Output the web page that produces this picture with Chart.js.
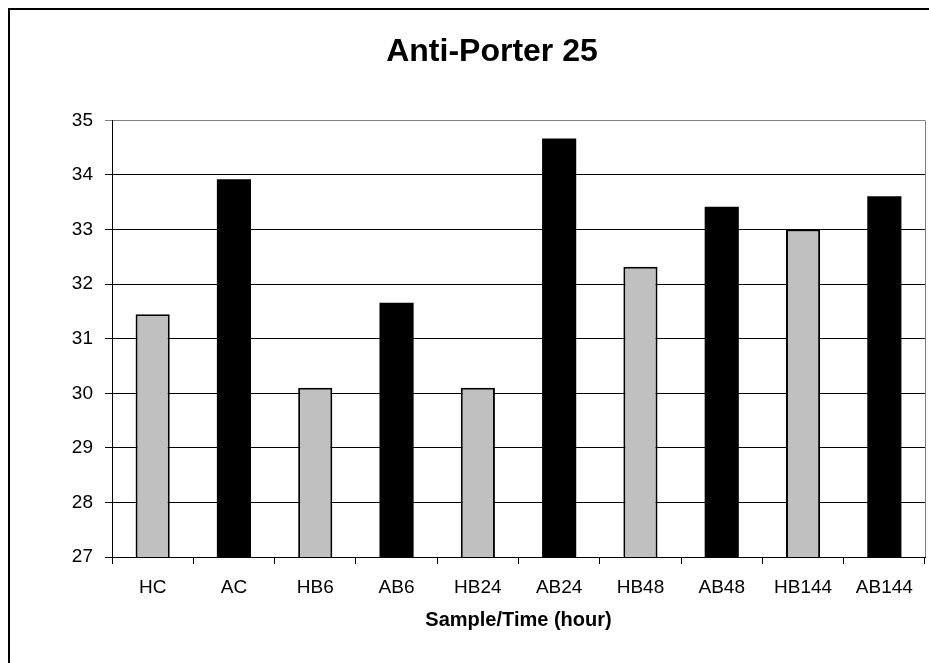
<!DOCTYPE html>
<html>
<head>
<meta charset="utf-8">
<title>Anti-Porter 25</title>
<script src="https://cdn.jsdelivr.net/npm/chart.js@4/dist/chart.umd.min.js"></script>
<style>
  html, body { margin: 0; padding: 0; background: #fff; }
  #wrap { width: 929px; height: 663px; position: relative; }
</style>
</head>
<body>
<div id="wrap"><canvas id="chart" width="929" height="663"></canvas></div>
<script>
// Sample groups and their measured values
const categories = ['HC', 'AC', 'HB6', 'AB6', 'HB24', 'AB24', 'HB48', 'AB48', 'HB144', 'AB144'];
const values = [31.45, 33.92, 30.10, 31.66, 30.10, 34.67, 32.32, 33.42, 33.00, 33.61];
const yTicks = [27, 28, 29, 30, 31, 32, 33, 34, 35];

const chartTitle = 'Anti-Porter 25';
const xTitle = 'Sample/Time (hour)';

// H* samples are light grey with an outline, A* samples are solid black
const GREY = '#C0C0C0';
const BLACK = '#000000';
const barFill = categories.map(c => c.startsWith('H') ? GREY : BLACK);
const barBorder = categories.map(c => c.startsWith('H') ? 2 : 0);

const FONT = '"Liberation Sans", Arial, Helvetica, sans-serif';

// Outer frame around the whole figure plus the right edge of the plot box
const framePlugin = {
  id: 'frame',
  afterDraw(chart) {
    const ctx = chart.ctx;
    const a = chart.chartArea;
    ctx.save();
    ctx.strokeStyle = '#808080';
    ctx.lineWidth = 1;
    ctx.beginPath();
    ctx.moveTo(Math.round(a.right) + 0.5, a.top);
    ctx.lineTo(Math.round(a.right) + 0.5, a.bottom);
    ctx.stroke();
    ctx.strokeStyle = '#000';
    ctx.lineWidth = 2;
    ctx.strokeRect(9, 9, chart.width + 20, chart.height + 20);
    ctx.restore();
  }
};

new Chart(document.getElementById('chart'), {
  type: 'bar',
  data: {
    labels: categories,
    datasets: [{
      data: values,
      backgroundColor: barFill,
      borderColor: BLACK,
      borderWidth: barBorder,
      borderSkipped: 'start',
      categoryPercentage: 1.0,
      barPercentage: 0.42
    }]
  },
  options: {
    responsive: false,
    animation: false,
    devicePixelRatio: 1,
    layout: { padding: { left: 59, right: 4, top: 0, bottom: 0 } },
    plugins: {
      legend: { display: false },
      tooltip: { enabled: false },
      title: {
        display: true,
        text: chartTitle,
        color: '#000',
        font: { family: FONT, size: 32, weight: 'bold' },
        padding: { top: 33, bottom: 49 }
      }
    },
    scales: {
      x: {
        offset: true,
        grid: {
          offset: true,
          drawOnChartArea: false,
          drawTicks: true,
          tickLength: 7,
          color: '#000',
          lineWidth: 1
        },
        border: { display: true, color: '#000', width: 1 },
        ticks: {
          color: '#000',
          padding: 12,
          maxRotation: 0,
          autoSkip: false,
          font: { family: FONT, size: 19 }
        },
        title: {
          display: true,
          text: xTitle,
          color: '#000',
          font: { family: FONT, size: 20, weight: 'bold' },
          padding: { top: 0, bottom: 31 }
        },
        afterFit(scale) { scale.height = 106; }
      },
      y: {
        min: yTicks[0],
        max: yTicks[yTicks.length - 1],
        afterBuildTicks(scale) { scale.ticks = yTicks.map(v => ({ value: v })); },
        grid: {
          drawTicks: true,
          tickLength: 7,
          color: ctx => (ctx.tick && ctx.tick.value === yTicks[yTicks.length - 1]) ? '#808080' : '#000',
          lineWidth: 1
        },
        border: { display: true, color: '#000', width: 1 },
        ticks: {
          color: '#000',
          padding: 12,
          font: { family: FONT, size: 19 }
        },
        afterFit(scale) { scale.width = 53; }
      }
    }
  },
  plugins: [framePlugin]
});
</script>
</body>
</html>
